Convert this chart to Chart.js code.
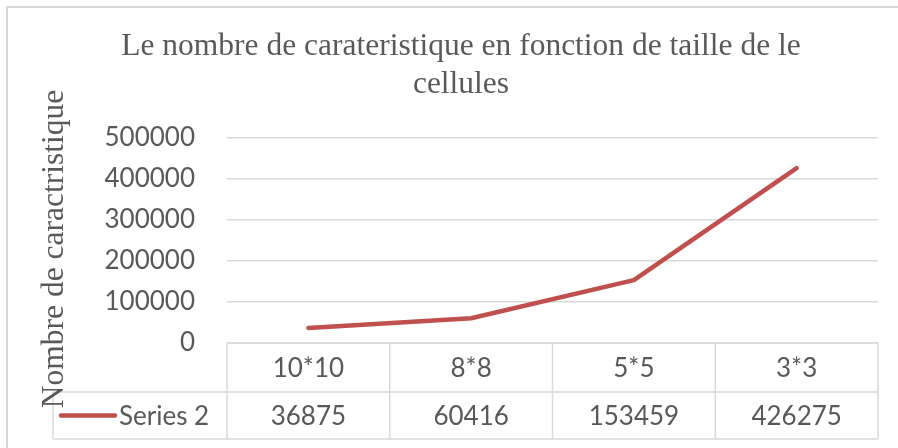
<!DOCTYPE html>
<html lang="fr">
<head>
<meta charset="UTF-8">
<title>Nombre de caractéristiques</title>
<script src="https://cdn.jsdelivr.net/npm/chart.js"></script>
<style>
  html, body { margin: 0; padding: 0; background: #fff; }
  canvas { display: block; }
</style>
</head>
<body>
<canvas id="chart" width="898" height="448"></canvas>
<script>
// data
const tailles = ['10*10', '8*8', '5*5', '3*3'];
const nbCaracteristiques = [36875, 60416, 153459, 426275];
const serieNom = 'Series 2';
const titreLignes = ['Le nombre de carateristique en fonction de taille de le', 'cellules'];
const titreAxeY = 'Nombre de caractristique';

const gris = '#595959';
const grille = '#d9d9d9';
const rouge = '#c0504d';
const policeNum = '26px Lato';

// outer frame, data table, legend key and rotated y title
const tableauPlugin = {
  id: 'tableau',
  afterDraw(chart) {
    const ctx = chart.ctx;
    const x = chart.scales.x;
    const area = chart.chartArea;
    const top = area.bottom;
    const mid = top + 49;
    const bas = mid + 47;
    const gauche = 53;
    const largeur = (x.right - x.left) / tailles.length;

    ctx.save();
    ctx.strokeStyle = grille;
    ctx.lineWidth = 2;
    ctx.beginPath();
    ctx.moveTo(7, 448); ctx.lineTo(7, 7); ctx.lineTo(898, 7);
    ctx.stroke();

    ctx.lineWidth = 1.5;
    ctx.beginPath();
    ctx.moveTo(x.left, top); ctx.lineTo(x.right, top);
    ctx.moveTo(gauche, mid); ctx.lineTo(x.right, mid);
    ctx.moveTo(gauche, bas); ctx.lineTo(x.right, bas);
    ctx.moveTo(gauche, mid); ctx.lineTo(gauche, bas);
    for (let i = 0; i <= tailles.length; i++) {
      const cx = x.left + i * largeur;
      ctx.moveTo(cx, top); ctx.lineTo(cx, bas);
    }
    ctx.stroke();

    ctx.fillStyle = gris;
    ctx.font = policeNum;
    ctx.textAlign = 'center';
    ctx.textBaseline = 'middle';
    tailles.forEach((t, i) => {
      const cx = x.getPixelForValue(i);
      ctx.fillText(t, cx, (top + mid) / 2 + 1);
      ctx.fillText(String(nbCaracteristiques[i]), cx, (mid + bas) / 2 + 1);
    });

    // legend key
    ctx.strokeStyle = rouge;
    ctx.lineWidth = 4.5;
    ctx.lineCap = 'round';
    ctx.beginPath();
    ctx.moveTo(61, (mid + bas) / 2); ctx.lineTo(115, (mid + bas) / 2);
    ctx.stroke();
    ctx.textAlign = 'left';
    ctx.fillText(serieNom, 119, (mid + bas) / 2 + 1);

    // y axis title
    ctx.translate(63, 249);
    ctx.rotate(-Math.PI / 2);
    ctx.font = '31.5px "Liberation Serif"';
    ctx.textAlign = 'center';
    ctx.textBaseline = 'alphabetic';
    ctx.fillText(titreAxeY, 0, 0);
    ctx.restore();
  }
};

new Chart(document.getElementById('chart'), {
  type: 'line',
  data: {
    labels: tailles,
    datasets: [{
      label: serieNom,
      data: nbCaracteristiques,
      borderColor: rouge,
      backgroundColor: rouge,
      borderWidth: 4.5,
      borderCapStyle: 'round',
      borderJoinStyle: 'round',
      pointRadius: 0,
      tension: 0
    }]
  },
  options: {
    responsive: false,
    animation: false,
    layout: { padding: { top: 0, left: 44, right: 20, bottom: 105 } },
    plugins: {
      legend: { display: false },
      tooltip: { enabled: false },
      title: {
        display: true,
        text: titreLignes,
        color: gris,
        font: { family: '"Liberation Serif"', size: 31.5, weight: 'normal', lineHeight: 1.206 },
        padding: { top: 28, bottom: 34 }
      }
    },
    scales: {
      x: { display: false, offset: true },
      y: {
        min: 0,
        max: 500000,
        ticks: {
          stepSize: 100000,
          padding: 32,
          color: gris,
          font: { family: 'Lato', size: 26 },
          callback: (v) => String(v)
        },
        grid: { color: grille, lineWidth: 1.5, drawTicks: false },
        border: { display: false },
        afterFit(scale) { scale.width = 183; }
      }
    }
  },
  plugins: [tableauPlugin]
});
</script>
</body>
</html>
